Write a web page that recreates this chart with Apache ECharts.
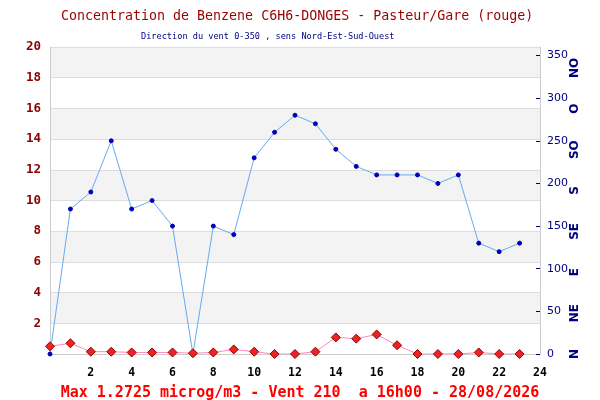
<!DOCTYPE html>
<html><head><meta charset="utf-8">
<script src="https://cdn.jsdelivr.net/npm/echarts@6/dist/echarts.min.js"></script>
<style>html,body{margin:0;padding:0;background:#fff}#c{width:600px;height:400px}</style>
</head><body><div id="c"></div>
<script>
const hours = [0,1,2,3,4,5,6,7,8,9,10,11,12,13,14,15,16,17,18,19,20,21,22,23];
const benzene = [0.5,0.7,0.15,0.15,0.1,0.1,0.1,0.05,0.1,0.3,0.15,0,0,0.15,1.08,1.0,1.2725,0.57,0,0,0,0.1,0,0];
const windDir = [0,170,190,250,170,180,150,0,150,140,230,260,280,270,240,220,210,210,210,200,210,130,120,130];
const directions = ['N','NE','E','SE','S','SO','O','NO'];
const titleText = 'Concentration de Benzene C6H6-DONGES - Pasteur/Gare (rouge)';
const subtitleText = 'Direction du vent 0-350 , sens Nord-Est-Sud-Ouest';
const footerText = 'Max 1.2725 microg/m3 - Vent 210  a 16h00 - 28/08/2026';

const mono = '"DejaVu Sans Mono", "Liberation Mono", monospace';
const chart = echarts.init(document.getElementById('c'), null, {renderer:'canvas'});
chart.setOption({
  animation:false,
  backgroundColor:'#fff',
  title:[
    {text:titleText, left:56, top:5, textStyle:{fontFamily:mono, fontSize:13.3, fontWeight:'normal', color:'#990000'}},
    {text:subtitleText, left:136, top:27, textStyle:{fontFamily:mono, fontSize:8.6, fontWeight:'normal', color:'#000080'}},
    {text:footerText, left:'center', top:381, textStyle:{fontFamily:mono, fontSize:15, fontWeight:'bold', color:'#ff0000'}}
  ],
  grid:{left:50, right:60, top:47, bottom:46, containLabel:false},
  xAxis:{type:'value', min:0, max:24, interval:2,
    axisLine:{lineStyle:{color:'#cccccc'}}, axisTick:{show:false}, splitLine:{show:false},
    axisLabel:{showMinLabel:false, color:'#000', fontFamily:mono, fontWeight:'bold', fontSize:11.5, margin:13}},
  yAxis:[
    {type:'value', position:'left', min:0, max:20, interval:2,
      axisLine:{show:true, lineStyle:{color:'#cccccc'}}, axisTick:{show:false},
      splitLine:{lineStyle:{color:'#dddddd'}},
      splitArea:{show:true, areaStyle:{color:['#ffffff','#f3f3f3']}},
      axisLabel:{showMinLabel:false, color:'#8b0000', fontFamily:mono, fontWeight:'bold', fontSize:12.5, margin:9}},
    {type:'value', position:'right', min:0, max:360, interval:50,
      axisLine:{show:true, lineStyle:{color:'#cccccc'}},
      axisTick:{show:true, inside:true, length:4, lineStyle:{color:'#000080'}},
      splitLine:{show:false},
      axisLabel:{showMaxLabel:false, color:'#000080', fontFamily:'"DejaVu Sans", sans-serif', fontSize:11, margin:7,
        formatter:v => (v % 50 === 0 && v <= 350) ? String(v) : ''}},
    {type:'value', position:'right', offset:29, min:0, max:338, interval:45,
      axisLine:{show:false}, axisTick:{show:false}, splitLine:{show:false},
      axisLabel:{rotate:90, color:'#000080', fontFamily:'"DejaVu Sans", sans-serif', fontWeight:'bold', fontSize:12, margin:0,
        formatter:v => (v % 45 === 0 && v/45 < directions.length) ? directions[v/45] : ''}}
  ],
  series:[
    {type:'line', yAxisIndex:1, data:hours.map((h,i)=>[h,windDir[i]]),
      lineStyle:{color:'#66aaee', width:1}, symbol:'circle', symbolSize:4,
      itemStyle:{color:'#0000bb', borderColor:'#0000bb'}, z:2},
    {type:'line', yAxisIndex:0, data:hours.map((h,i)=>[h,benzene[i]]),
      lineStyle:{color:'#ff88bb', width:1}, symbol:'diamond', symbolSize:9,
      itemStyle:{color:'#ee2222', borderColor:'#990000', borderWidth:1}, z:3}
  ]
});
</script></body></html>
